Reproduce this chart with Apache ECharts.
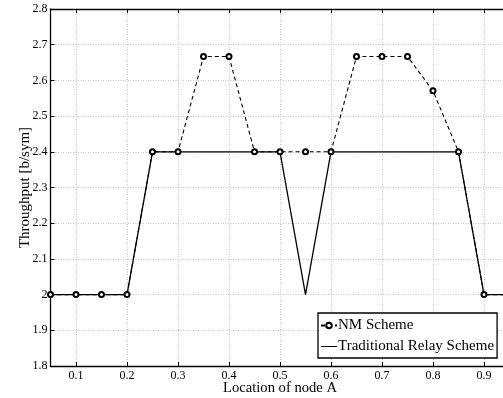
<!DOCTYPE html>
<html><head><meta charset="utf-8">
<script src="https://cdn.jsdelivr.net/npm/echarts@6/dist/echarts.min.js"></script>
<style>html,body{margin:0;padding:0;background:#fff}#c{width:503px;height:398px}</style>
</head><body><div id="c"></div>
<script>
var xValues = [0.05,0.1,0.15,0.2,0.25,0.3,0.35,0.4,0.45,0.5,0.55,0.6,0.65,0.7,0.75,0.8,0.85,0.9,0.95];
var nmScheme = [2,2,2,2,2.4,2.4,2.667,2.667,2.4,2.4,2.4,2.4,2.667,2.667,2.667,2.571,2.4,2,2];
var traditional = [2,2,2,2,2.4,2.4,2.4,2.4,2.4,2.4,2.0,2.4,2.4,2.4,2.4,2.4,2.4,2,2];
var xTicks = [0.1,0.2,0.3,0.4,0.5,0.6,0.7,0.8,0.9];
var seriesNames = ['NM Scheme','Traditional Relay Scheme'];
var xTitle = 'Location of node A';
var yTitle = 'Throughput [b/sym]';

function pairs(ys){ return xValues.map(function(x,i){ return [x, ys[i]]; }); }
var font = 'Liberation Serif';
var chart = echarts.init(document.getElementById('c'), null, {renderer:'canvas'});
chart.setOption({
  animation:false,
  backgroundColor:'#fff',
  grid:{left:50.5, top:9, right:-6.5, bottom:32, containLabel:false, outerBoundsMode:'none'},
  xAxis:[{
    type:'value', min:0.05, max:0.95, position:'bottom',
    name:xTitle, nameLocation:'middle', nameGap:15, nameMoveOverlap:false,
    nameTextStyle:{fontFamily:font, fontSize:14.6, color:'#000'},
    axisLine:{show:true, onZero:false, lineStyle:{color:'#000', width:1.3}},
    axisTick:{show:true, inside:true, length:4, customValues:xTicks, lineStyle:{color:'#000'}},
    axisLabel:{show:true, customValues:xTicks, fontFamily:font, fontSize:12, color:'#000', margin:4,
      formatter:function(v){ return String(Math.round(v*10)/10); }},
    splitLine:{show:true, lineStyle:{color:'#c4c4c4', type:[1,1.5], width:1}}
  },{
    type:'value', min:0.05, max:0.95, position:'top',
    axisLine:{show:true, onZero:false, lineStyle:{color:'#000', width:1.3}},
    axisTick:{show:true, inside:true, length:4, customValues:xTicks, lineStyle:{color:'#000'}},
    axisLabel:{show:false},
    splitLine:{show:false}
  }],
  yAxis:[{
    type:'value', min:1.8, max:2.8, interval:0.1,
    name:yTitle, nameLocation:'middle', nameGap:18, nameMoveOverlap:false,
    nameTextStyle:{fontFamily:font, fontSize:15, color:'#000'},
    axisLine:{show:true, onZero:false, lineStyle:{color:'#000', width:1.3}},
    axisTick:{show:true, inside:true, length:4, lineStyle:{color:'#000'}},
    axisLabel:{fontFamily:font, fontSize:12, color:'#000', margin:3,
      formatter:function(v){ return String(Math.round(v*10)/10); }},
    splitLine:{show:true, lineStyle:{color:'#c4c4c4', type:[1,1.5], width:1}}
  }],
  legend:{
    left:318, top:313, orient:'vertical',
    data:[
      {name:seriesNames[0]},
      {name:seriesNames[1], icon:'path://M0,0 L20,0 L20,1.3 L0,1.3 Z'}
    ],
    backgroundColor:'#fff', borderColor:'#000', borderWidth:1.3, borderRadius:0,
    padding:[5,3,4,2], itemGap:6, itemWidth:16, itemHeight:7,
    textStyle:{fontFamily:font, fontSize:15, color:'#000', padding:[0,0,0,-4]}
  },
  series:[{
    name:seriesNames[1], type:'line', data:pairs(traditional),
    symbol:'none', color:'#000', lineStyle:{color:'#000', width:1.3}, z:2
  },{
    name:seriesNames[0], type:'line', data:pairs(nmScheme),
    symbol:'emptyCircle', symbolSize:5, showSymbol:true, color:'#000',
    itemStyle:{color:'#000', borderColor:'#000', borderWidth:1.2},
    lineStyle:{color:'#000', width:1.1, type:[4,3]}, z:3
  }]
});
</script></body></html>
